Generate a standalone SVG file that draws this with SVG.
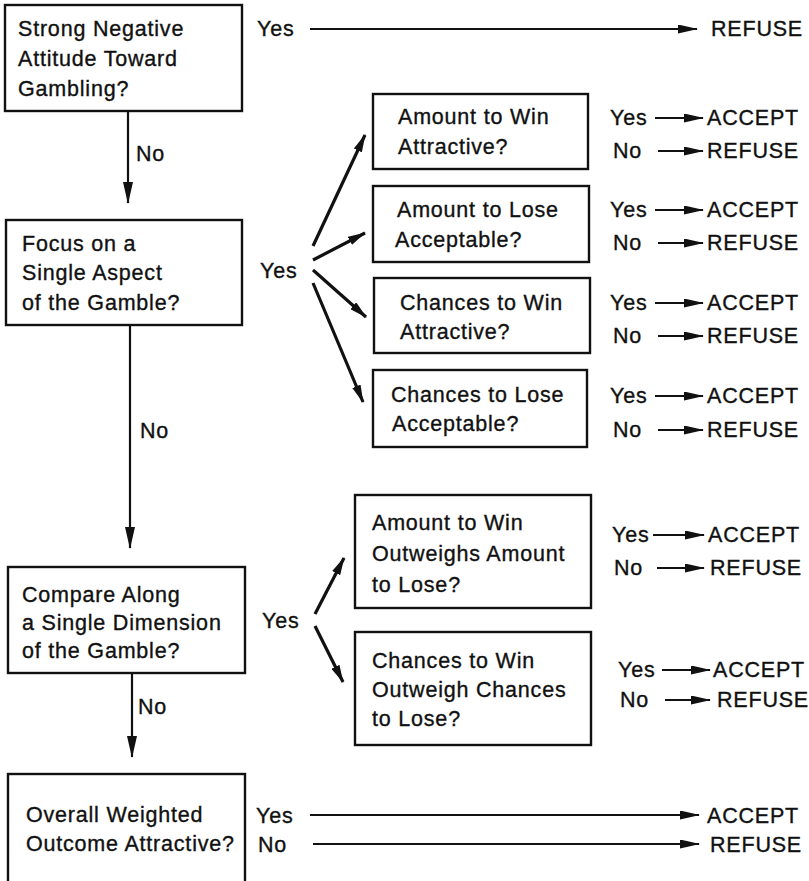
<svg xmlns="http://www.w3.org/2000/svg" width="809" height="881" viewBox="0 0 809 881">
<defs>
<style>
text{font-family:"Liberation Sans",Arial,Helvetica,sans-serif;font-size:21.5px;letter-spacing:0.8px;fill:#111;stroke:#111;stroke-width:0.35}
.box{fill:#fff;stroke:#111;stroke-width:2.4}
.ln{stroke:#111;stroke-width:2.2;fill:none}
.fan{stroke:#111;stroke-width:3.2;fill:none}
</style>
<marker id="ah" markerUnits="userSpaceOnUse" markerWidth="20" markerHeight="9" refX="19" refY="4.5" orient="auto" viewBox="0 0 20 9">
<path d="M0,0 L20,4.5 L0,9 Z" fill="#111"/>
</marker>
<marker id="ahv" markerUnits="userSpaceOnUse" markerWidth="22" markerHeight="10" refX="21" refY="5" orient="auto" viewBox="0 0 22 10">
<path d="M0,0 L22,5 L0,10 Z" fill="#111"/>
</marker>
<marker id="ahf" markerUnits="userSpaceOnUse" markerWidth="18" markerHeight="9" refX="17" refY="4.5" orient="auto" viewBox="0 0 18 9">
<path d="M0,0 L18,4.5 L0,9 Z" fill="#111"/>
</marker>
</defs>

<g id="connectors">
<line class="ln" x1="310" y1="29" x2="697" y2="29" marker-end="url(#ah)"/>
<line class="ln" x1="128" y1="111" x2="128" y2="203" marker-end="url(#ahv)"/>
<line class="ln" x1="130" y1="325" x2="130" y2="548" marker-end="url(#ahv)"/>
<line class="ln" x1="132" y1="673" x2="132" y2="757" marker-end="url(#ahv)"/>
<line class="fan" x1="313" y1="246" x2="365" y2="135" marker-end="url(#ahf)"/>
<line class="fan" x1="313" y1="260" x2="365" y2="233" marker-end="url(#ahf)"/>
<line class="fan" x1="313" y1="270" x2="366" y2="317" marker-end="url(#ahf)"/>
<line class="fan" x1="313" y1="283" x2="363" y2="402" marker-end="url(#ahf)"/>
<line class="fan" x1="315" y1="614" x2="344" y2="558" marker-end="url(#ahf)"/>
<line class="fan" x1="315" y1="626" x2="343" y2="682" marker-end="url(#ahf)"/>
<line class="ln" x1="655" y1="118" x2="703" y2="118" marker-end="url(#ah)"/>
<line class="ln" x1="658" y1="151" x2="703" y2="151" marker-end="url(#ah)"/>
<line class="ln" x1="655" y1="210" x2="703" y2="210" marker-end="url(#ah)"/>
<line class="ln" x1="658" y1="243" x2="703" y2="243" marker-end="url(#ah)"/>
<line class="ln" x1="655" y1="303" x2="703" y2="303" marker-end="url(#ah)"/>
<line class="ln" x1="658" y1="336" x2="703" y2="336" marker-end="url(#ah)"/>
<line class="ln" x1="655" y1="396" x2="703" y2="396" marker-end="url(#ah)"/>
<line class="ln" x1="658" y1="430" x2="703" y2="430" marker-end="url(#ah)"/>
<line class="ln" x1="653" y1="535" x2="704" y2="535" marker-end="url(#ah)"/>
<line class="ln" x1="657" y1="568" x2="704" y2="568" marker-end="url(#ah)"/>
<line class="ln" x1="662" y1="670" x2="710" y2="670" marker-end="url(#ah)"/>
<line class="ln" x1="665" y1="700" x2="710" y2="700" marker-end="url(#ah)"/>
<line class="ln" x1="310" y1="815" x2="699" y2="815" marker-end="url(#ah)"/>
<line class="ln" x1="313" y1="844" x2="699" y2="844" marker-end="url(#ah)"/>
</g>

<g id="labels">
<text x="257" y="36">Yes</text>
<text x="711" y="36">REFUSE</text>
<text x="136" y="161">No</text>
<text x="260" y="278">Yes</text>
<text x="140" y="438">No</text>
<text x="262" y="628">Yes</text>
<text x="138" y="714">No</text>
<text x="256" y="823">Yes</text>
<text x="707" y="823">ACCEPT</text>
<text x="258" y="852">No</text>
<text x="710" y="852">REFUSE</text>
</g>

<g id="n1">
<rect class="box" x="5" y="5" width="237" height="106"/>
<text x="18" y="36">Strong Negative</text>
<text x="18" y="66">Attitude Toward</text>
<text x="18" y="96">Gambling?</text>
</g>

<g id="n2">
<rect class="box" x="6" y="220" width="236" height="105"/>
<text x="22" y="251">Focus on a</text>
<text x="22" y="280">Single Aspect</text>
<text x="22" y="310">of the Gamble?</text>
</g>

<g id="a1">
<rect class="box" x="373" y="94" width="215" height="75"/>
<text x="398" y="124">Amount to Win</text>
<text x="398" y="154">Attractive?</text>
<text x="610" y="125">Yes</text><text x="707" y="125">ACCEPT</text>
<text x="613" y="158">No</text><text x="707" y="158">REFUSE</text>
</g>

<g id="a2">
<rect class="box" x="373" y="186" width="216" height="76"/>
<text x="397" y="217">Amount to Lose</text>
<text x="395" y="247">Acceptable?</text>
<text x="610" y="217">Yes</text><text x="707" y="217">ACCEPT</text>
<text x="613" y="250">No</text><text x="707" y="250">REFUSE</text>
</g>

<g id="a3">
<rect class="box" x="374" y="278" width="216" height="75"/>
<text x="400" y="310">Chances to Win</text>
<text x="400" y="339">Attractive?</text>
<text x="610" y="310">Yes</text><text x="707" y="310">ACCEPT</text>
<text x="613" y="343">No</text><text x="707" y="343">REFUSE</text>
</g>

<g id="a4">
<rect class="box" x="373" y="370" width="214" height="77"/>
<text x="391" y="402">Chances to Lose</text>
<text x="392" y="431">Acceptable?</text>
<text x="610" y="403">Yes</text><text x="707" y="403">ACCEPT</text>
<text x="613" y="437">No</text><text x="707" y="437">REFUSE</text>
</g>

<g id="n3">
<rect class="box" x="8" y="567" width="237" height="106"/>
<text x="22" y="602">Compare Along</text>
<text x="22" y="630">a Single Dimension</text>
<text x="22" y="658">of the Gamble?</text>
</g>

<g id="b1">
<rect class="box" x="355" y="495" width="236" height="113"/>
<text x="372" y="530">Amount to Win</text>
<text x="372" y="561">Outweighs Amount</text>
<text x="372" y="592">to Lose?</text>
<text x="612" y="542">Yes</text><text x="708" y="542">ACCEPT</text>
<text x="614" y="575">No</text><text x="710" y="575">REFUSE</text>
</g>

<g id="b2">
<rect class="box" x="355" y="632" width="236" height="113"/>
<text x="372" y="668">Chances to Win</text>
<text x="372" y="697">Outweigh Chances</text>
<text x="372" y="726">to Lose?</text>
<text x="618" y="677">Yes</text><text x="713" y="677">ACCEPT</text>
<text x="620" y="707">No</text><text x="717" y="707">REFUSE</text>
</g>

<g id="n4">
<rect class="box" x="8" y="774" width="237" height="125"/>
<text x="26" y="822">Overall Weighted</text>
<text x="26" y="851">Outcome Attractive?</text>
</g>
</svg>
